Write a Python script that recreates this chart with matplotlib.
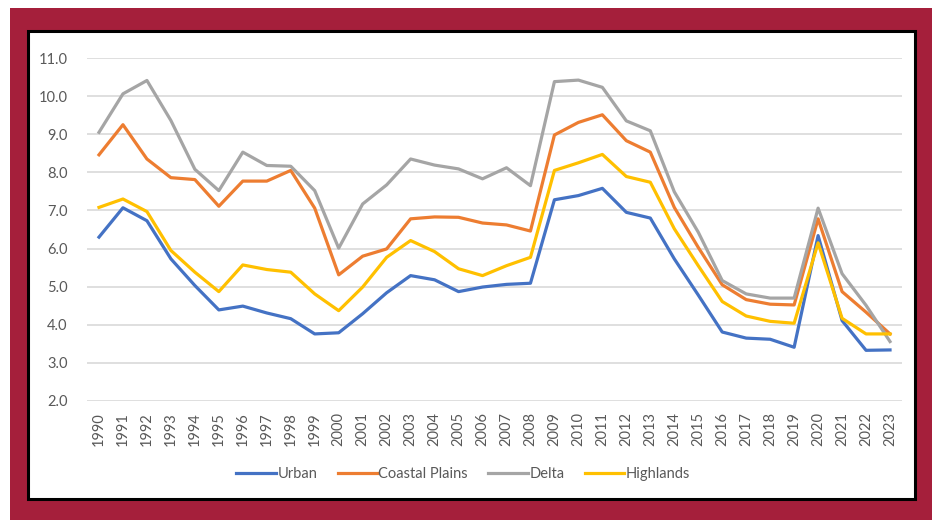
import matplotlib.pyplot as plt
from matplotlib.patches import Rectangle

plt.rcParams['font.family'] = ['Lato', 'DejaVu Sans']

years = list(range(1990, 2024))
urban = [6.30, 7.07, 6.73, 5.73, 5.03, 4.39, 4.49, 4.31, 4.16, 3.76, 3.79,
         4.29, 4.84, 5.29, 5.18, 4.87, 4.99, 5.06, 5.09, 7.28, 7.39, 7.58,
         6.95, 6.80, 5.73, 4.78, 3.81, 3.65, 3.62, 3.41, 6.34, 4.11, 3.33, 3.34]
coastal = [8.46, 9.25, 8.35, 7.86, 7.81, 7.11, 7.77, 7.77, 8.05, 7.06, 5.31,
           5.80, 5.99, 6.78, 6.83, 6.82, 6.67, 6.62, 6.46, 8.98, 9.31, 9.51,
           8.83, 8.53, 7.08, 6.03, 5.05, 4.66, 4.54, 4.52, 6.78, 4.87, 4.33, 3.76]
delta = [9.05, 10.06, 10.41, 9.36, 8.08, 7.52, 8.53, 8.18, 8.16, 7.52, 6.01,
         7.17, 7.67, 8.35, 8.19, 8.09, 7.83, 8.12, 7.65, 10.38, 10.42, 10.23,
         9.35, 9.09, 7.49, 6.43, 5.16, 4.81, 4.70, 4.70, 7.06, 5.34, 4.51, 3.56]
highlands = [7.08, 7.30, 6.97, 5.95, 5.38, 4.87, 5.57, 5.45, 5.38, 4.81, 4.37,
             4.99, 5.77, 6.21, 5.92, 5.47, 5.29, 5.55, 5.77, 8.05, 8.25, 8.47,
             7.89, 7.74, 6.52, 5.55, 4.61, 4.23, 4.09, 4.04, 6.15, 4.17, 3.76, 3.76]

series = [('Urban', urban, '#4472C4'),
          ('Coastal Plains', coastal, '#ED7D31'),
          ('Delta', delta, '#A5A5A5'),
          ('Highlands', highlands, '#FFC000')]

W, H = 934, 520
fig = plt.figure(figsize=(W / 100, H / 100), dpi=100, facecolor='white')

# maroon frame and white inner panel
fig.patches.append(Rectangle((10 / W, 0), 922 / W, 512 / H, transform=fig.transFigure,
                             facecolor='#A51F3B', edgecolor='none', zorder=0))
fig.patches.append(Rectangle((28 / W, 1 - 499 / H), 887 / W, 468 / H, transform=fig.transFigure,
                             facecolor='white', edgecolor='black', linewidth=2.2, zorder=1))

ax = fig.add_axes([87 / W, 1 - 401 / H, 815 / W, 343 / H])
ax.set_facecolor('none')
ax.set_zorder(2)

x = list(range(len(years)))
for name, vals, color in series:
    ax.plot(x, vals, color=color, linewidth=2.3, label=name, solid_joinstyle='round')

ax.set_xlim(-0.5, len(years) - 0.5)
ax.set_ylim(2.0, 11.0)
ax.set_yticks([2 + i for i in range(10)])
ax.set_yticklabels([f'{2 + i:.1f}' for i in range(10)])
ax.set_xticks(x)
ax.set_xticklabels([str(y) for y in years], rotation=90)
ax.tick_params(axis='both', length=0, labelsize=10.5, labelcolor='#595959')
ax.tick_params(axis='y', pad=14)
ax.tick_params(axis='x', pad=8)
ax.grid(axis='y', color='#D9D9D9', linewidth=1.2)
ax.set_axisbelow(True)
for s in ax.spines.values():
    s.set_visible(False)

leg = fig.legend(loc='center', bbox_to_anchor=(0.496, 1 - 474 / H), ncol=4, frameon=False,
                 fontsize=10.5, handlelength=2.7, handletextpad=0.1, columnspacing=1.4)
for t in leg.get_texts():
    t.set_color('#595959')
leg.set_zorder(3)

fig.savefig('out.png', dpi=100, facecolor='white')
